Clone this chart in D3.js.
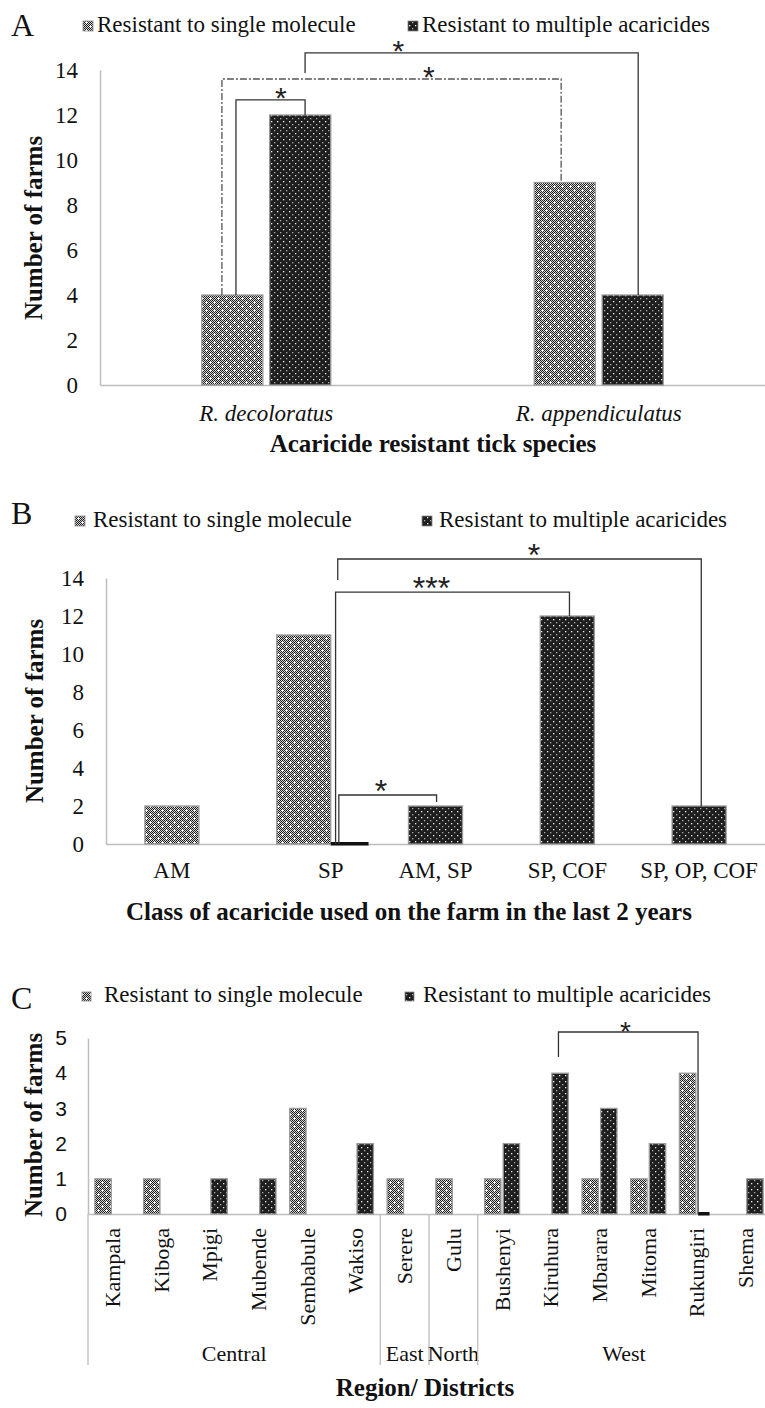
<!DOCTYPE html>
<html><head><meta charset="utf-8">
<script src="https://cdn.jsdelivr.net/npm/d3@7"></script>
<style>body{margin:0;background:#fff}svg{display:block}</style>
</head><body>
<svg id="chart" width="765" height="1408"></svg>
<script>
// ---------------- DATA ----------------
const seriesNames = ["Resistant to single molecule", "Resistant to multiple acaricides"];
const tickValuesAB = [0, 2, 4, 6, 8, 10, 12, 14];
const tickValuesC = [0, 1, 2, 3, 4, 5];

const speciesCats = ["R. decoloratus", "R. appendiculatus"];
const speciesSingle = [4, 9];
const speciesMultiple = [12, 4];

const classCats = ["AM", "SP", "AM, SP", "SP, COF", "SP, OP, COF"];
const classSingle = [2, 11, null, null, null];
const classMultiple = [null, 0, 2, 12, 2];

const districts = ["Kampala", "Kiboga", "Mpigi", "Mubende", "Sembabule", "Wakiso", "Serere", "Gulu",
  "Bushenyi", "Kiruhura", "Mbarara", "Mitoma", "Rukungiri", "Shema"];
const districtRegions = ["Central", "Central", "Central", "Central", "Central", "Central", "East", "North",
  "West", "West", "West", "West", "West", "West"];
const districtSingle = [1, 1, null, null, 3, null, 1, 1, 1, null, 1, 1, 4, null];
const districtMultiple = [null, null, 1, 1, null, 2, null, null, 2, 4, 3, 2, 0, 1];

// significance brackets: [category, series, fraction across bar], levels in data units
const bracketsA = [
  {from: ["R. decoloratus", 0, 0.56], to: ["R. decoloratus", 1, 0.58], top: 12.67, ends: [4, 12], label: "*", at: 0.65, dash: false},
  {from: ["R. decoloratus", 0, 0.33], to: ["R. appendiculatus", 0, 0.44], top: 13.6, ends: [4, 9], label: "*", at: 0.61, dash: true},
  {from: ["R. decoloratus", 1, 0.58], to: ["R. appendiculatus", 1, 0.59], top: 14.76, ends: [13.87, 4], label: "*", at: 0.28, dash: false}
];
const bracketsB = [
  {from: ["SP", 1, 0.15], to: ["AM, SP", 1, 0.52], top: 2.58, ends: [0, 2.21], label: "*", at: 0.43},
  {from: ["SP", 1, 0.09], to: ["SP, COF", 1, 0.54], top: 13.26, ends: [0, 12], label: "***", at: 0.41},
  {from: ["SP", 1, 0.13], to: ["SP, OP, COF", 1, 0.54], top: 15.0, ends: [13.9, 2], label: "*", at: 0.54}
];
const bracketsC = [
  {from: ["Kiruhura", 1, 0.4], to: ["Rukungiri", 1, 0.0], top: 5.17, ends: [4.46, 0], label: "*", at: 0.48}
];

// ---------------- SETUP ----------------
const serif = "'Liberation Serif','Times New Roman',serif";
const sans = "'Liberation Sans',Arial,sans-serif";
const axisColor = "#bdbdbd";
const svg = d3.select("#chart");
const defs = svg.append("defs");

// pattern: single molecule (checker + white crosses)
const pS = defs.append("pattern").attr("id", "pS").attr("patternUnits", "userSpaceOnUse")
  .attr("width", 8).attr("height", 8);
pS.append("rect").attr("width", 8).attr("height", 8).attr("fill", "#d4d4d4");
for (let yy = 0; yy < 8; yy++) for (let xx = 0; xx < 8; xx++)
  if ((xx + yy) % 2 === 0) pS.append("rect").attr("x", xx).attr("y", yy).attr("width", 1).attr("height", 1).attr("fill", "#1e1e1e");
[[2, 2], [6, 6]].forEach(([cx, cy]) => {
  pS.append("rect").attr("x", cx - 1).attr("y", cy).attr("width", 3).attr("height", 1).attr("fill", "#fff");
  pS.append("rect").attr("x", cx).attr("y", cy - 1).attr("width", 1).attr("height", 3).attr("fill", "#fff");
});
// pattern: multiple (dark with white dots)
const pM = defs.append("pattern").attr("id", "pM").attr("patternUnits", "userSpaceOnUse")
  .attr("width", 6).attr("height", 6);
pM.append("rect").attr("width", 6).attr("height", 6).attr("fill", "#1e1e1e");
pM.append("rect").attr("x", 1).attr("y", 1).attr("width", 1.3).attr("height", 1.3).attr("fill", "#eee");
pM.append("rect").attr("x", 4).attr("y", 4).attr("width", 1.3).attr("height", 1.3).attr("fill", "#aaa");
const fills = ["url(#pS)", "url(#pM)"];

function rows(cats, single, multi) {
  return cats.flatMap((c, i) => [{cat: c, s: 0, v: single[i]}, {cat: c, s: 1, v: multi[i]}])
    .filter(d => d.v !== null);
}

function drawBars(g, data, slot, y) {
  data.forEach(d => {
    const sl = slot(d.cat, d.s);
    if (d.v > 0) {
      g.append("rect").attr("x", sl.x).attr("y", y(d.v)).attr("width", sl.w)
        .attr("height", y(0) - y(d.v)).attr("fill", fills[d.s])
        .attr("stroke", "#9a9a9a").attr("stroke-width", 1.3);
    } else {
      g.append("rect").attr("x", sl.x).attr("y", y(0) - 2).attr("width", sl.w * 0.7)
        .attr("height", 3.5).attr("fill", "#111");
    }
  });
}

function drawBrackets(g, list, slot, y, starOff, starSize) {
  list.forEach(b => {
    const s1 = slot(b.from[0], b.from[1]), s2 = slot(b.to[0], b.to[1]);
    const x1 = s1.x + s1.w * b.from[2], x2 = s2.x + s2.w * b.to[2];
    const yt = y(b.top);
    g.append("path").attr("d", `M${x1},${y(b.ends[0])}V${yt}H${x2}V${y(b.ends[1])}`)
      .attr("fill", "none").attr("stroke", b.dash ? "#555" : "#333").attr("stroke-width", 1.3)
      .attr("stroke-dasharray", b.dash ? "7,2,2,2" : null);
    g.append("text").attr("x", x1 + (x2 - x1) * b.at).attr("y", yt - starOff + starSize * 0.58)
      .attr("text-anchor", "middle").attr("font-family", sans).attr("font-size", starSize)
      .attr("fill", "#222").text(b.label);
  });
}

function yAxis(g, y, x0, ticks, font, size, pad) {
  const ax = g.append("g").attr("transform", `translate(${x0},0)`)
    .call(d3.axisLeft(y).tickValues(ticks).tickFormat(d3.format("d")).tickSize(0).tickSizeOuter(0).tickPadding(pad));
  ax.select(".domain").attr("stroke", axisColor).attr("stroke-width", 1.5);
  ax.selectAll("text").attr("font-family", font).attr("font-size", size).attr("fill", "#111");
}

function xAxisLine(g, x, y0) {
  const ax = g.append("g").attr("transform", `translate(0,${y0})`)
    .call(d3.axisBottom(x).tickSize(0).tickSizeOuter(0).tickFormat(""));
  ax.select(".domain").attr("stroke", axisColor).attr("stroke-width", 1.5);
  ax.selectAll(".tick").remove();
}

function legend(g, base, items) {
  items.forEach((it, i) => {
    g.append("rect").attr("x", it.sx).attr("y", base - 11 + (it.dy || 0)).attr("width", it.sw).attr("height", it.sw)
      .attr("fill", fills[i]).attr("stroke", "#888").attr("stroke-width", 0.8);
    g.append("text").attr("x", it.tx).attr("y", base).attr("font-family", serif)
      .attr("font-size", 23).attr("fill", "#111").text(seriesNames[i]);
  });
}

function panelLetter(g, t, x, y) {
  g.append("text").attr("x", x).attr("y", y).attr("font-family", serif).attr("font-size", 32)
    .attr("fill", "#111").text(t);
}

function yTitle(g, x, y) {
  g.append("text").attr("transform", `translate(${x},${y}) rotate(-90)`).attr("text-anchor", "middle")
    .attr("font-family", serif).attr("font-weight", "bold").attr("font-size", 25).attr("fill", "#111")
    .text("Number of farms");
}

function xTitle(g, x, y, t) {
  g.append("text").attr("x", x).attr("y", y).attr("text-anchor", "middle")
    .attr("font-family", serif).attr("font-weight", "bold").attr("font-size", 25).attr("fill", "#111").text(t);
}

// ---------------- PANEL A ----------------
{
  const g = svg.append("g");
  const y = d3.scaleLinear().domain([0, 14]).range([385, 70]);
  const x = d3.scaleBand().domain(speciesCats).range([100, 765]);
  const sub = d3.scaleBand().domain([0, 1]).range([-64.5, 64.5]).paddingInner(0.1);
  const slot = (c, s) => ({x: x(c) + x.bandwidth() / 2 + sub(s), w: sub.bandwidth()});
  panelLetter(g, "A", 11, 36);
  legend(g, 32, [{sx: 83, sw: 10, tx: 97}, {sx: 408, sw: 10, tx: 422}]);
  yAxis(g, y, 100, tickValuesAB, serif, 23, 22);
  xAxisLine(g, x, 385);
  drawBars(g, rows(speciesCats, speciesSingle, speciesMultiple), slot, y);
  drawBrackets(g, bracketsA, slot, y, 9, 30);
  speciesCats.forEach(c => g.append("text").attr("x", x(c) + x.bandwidth() / 2).attr("y", 421)
    .attr("text-anchor", "middle").attr("font-family", serif).attr("font-style", "italic")
    .attr("font-size", 23).attr("fill", "#111").text(c));
  xTitle(g, 433, 452, "Acaricide resistant tick species");
  yTitle(g, 42, 228);
}

// ---------------- PANEL B ----------------
{
  const g = svg.append("g");
  const y = d3.scaleLinear().domain([0, 14]).range([844, 578]);
  const x = d3.scaleBand().domain(classCats).range([106, 765]);
  const bw = x.bandwidth() * 0.41;
  const has = (c, s) => (s === 0 ? classSingle : classMultiple)[classCats.indexOf(c)] !== null;
  const slot = (c, s) => {
    const cx = x(c) + x.bandwidth() / 2;
    if (has(c, 0) && has(c, 1)) return {x: s === 0 ? cx - bw / 2 : cx + bw / 2, w: bw};
    return {x: cx - bw / 2, w: bw};
  };
  panelLetter(g, "B", 11, 524);
  legend(g, 527, [{sx: 75, sw: 10, tx: 93}, {sx: 422, sw: 10, tx: 439}]);
  yAxis(g, y, 106, tickValuesAB, serif, 23, 22);
  xAxisLine(g, x, 844);
  drawBars(g, rows(classCats, classSingle, classMultiple), slot, y);
  drawBrackets(g, bracketsB, slot, y, 12, 32);
  classCats.forEach(c => {
    const ss = [0, 1].filter(s => has(c, s)).map(s => slot(c, s));
    const cx = d3.mean(ss, s => s.x + s.w / 2);
    g.append("text").attr("x", cx).attr("y", 878).attr("text-anchor", "middle")
      .attr("font-family", serif).attr("font-size", 23).attr("fill", "#111").text(c);
  });
  xTitle(g, 409, 920, "Class of acaricide used on the farm in the last 2 years");
  yTitle(g, 43, 711);
}

// ---------------- PANEL C ----------------
{
  const g = svg.append("g");
  const y = d3.scaleLinear().domain([0, 5]).range([1214, 1038]);
  const x = d3.scaleBand().domain(districts).range([88, 770]);
  const sub = d3.scaleBand().domain([0, 1]).range([-17.5, 17.5]).paddingInner(0.12);
  const slot = (c, s) => ({x: x(c) + x.bandwidth() / 2 + sub(s), w: sub.bandwidth()});
  panelLetter(g, "C", 11, 1009);
  legend(g, 1002, [{sx: 82, sw: 9, tx: 104, dy: 1}, {sx: 405, sw: 9, tx: 423, dy: 1}]);
  yAxis(g, y, 88, tickValuesC, sans, 21, 21);
  xAxisLine(g, x, 1214);
  drawBars(g, rows(districts, districtSingle, districtMultiple), slot, y);
  drawBrackets(g, bracketsC, slot, y, 7, 28);
  districts.forEach(c => g.append("text")
    .attr("transform", `translate(${x(c) + x.bandwidth() / 2 + 7.5},1228) rotate(-90)`)
    .attr("text-anchor", "end").attr("font-family", serif).attr("font-size", 22).attr("fill", "#111").text(c));
  // region groups
  const groups = [];
  districts.forEach((d, i) => {
    const r = districtRegions[i];
    if (!groups.length || groups[groups.length - 1].r !== r) groups.push({r, first: d, last: d});
    else groups[groups.length - 1].last = d;
  });
  groups.forEach(gr => {
    const x0 = x(gr.first), x1 = x(gr.last) + x.bandwidth();
    g.append("line").attr("x1", x0).attr("x2", x0).attr("y1", 1214).attr("y2", 1365)
      .attr("stroke", axisColor).attr("stroke-width", 1.3);
    g.append("text").attr("x", (x0 + x1) / 2).attr("y", 1361).attr("text-anchor", "middle")
      .attr("font-family", serif).attr("font-size", 22).attr("fill", "#111").text(gr.r);
  });
  const xe = x.range()[1];
  g.append("line").attr("x1", xe).attr("x2", xe).attr("y1", 1214).attr("y2", 1365)
    .attr("stroke", axisColor).attr("stroke-width", 1.3);
  xTitle(g, 425, 1396, "Region/ Districts");
  yTitle(g, 42, 1125);
}
</script>
</body></html>
